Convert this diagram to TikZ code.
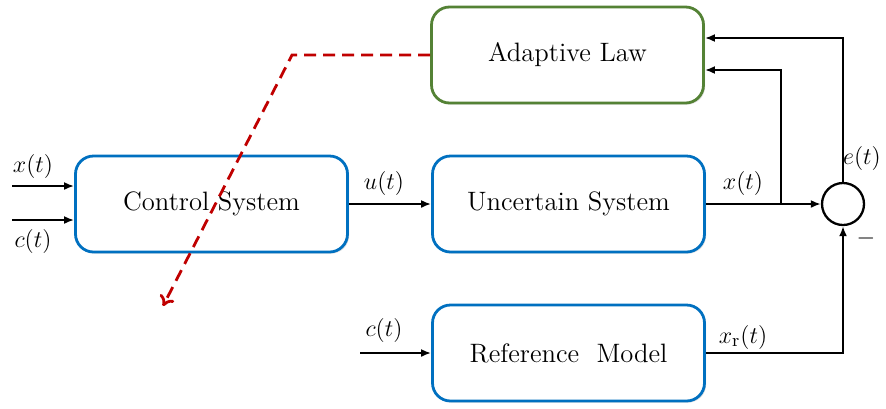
\documentclass[tikz,border=0pt]{standalone}
\usetikzlibrary{arrows.meta,shadows}
\definecolor{blu}{RGB}{0,112,192}
\definecolor{grn}{RGB}{84,130,53}
\definecolor{rd}{RGB}{192,0,0}
\begin{document}
\begin{tikzpicture}[x=0.5pt,y=-0.5pt,
  blk/.style={draw=blu,line width=1.4pt,rounded corners=9pt,minimum width=136pt,minimum height=48pt,fill=white,
    drop shadow={shadow xshift=0.8pt,shadow yshift=-0.8pt,opacity=0.25},font=\fontsize{13.3}{16}\selectfont},
  sig/.style={line width=1.15pt,-{Latex[length=5pt,width=4pt]}},
  lbl/.style={font=\fontsize{12.5}{15}\selectfont,inner sep=0pt}]
\path[use as bounding box] (0,0) rectangle (886,408);
\node[blk,draw=grn] (al) at (567.5,55) {Adaptive Law};
\node[blk] (cs) at (211.5,204) {Control System};
\node[blk] (us) at (568.5,204) {Uncertain System};
\node[blk] (rm) at (568.5,353) {Reference\ \ Model};
\node[draw,circle,line width=1.15pt,minimum size=21pt,inner sep=0pt] (sum) at (843,204) {};
% inputs to control system
\coordinate (xin) at (12,186);
\coordinate (cin) at (12,220);
\draw[sig] (xin) -- (xin -| cs.west);
\draw[sig] (cin) -- (cin -| cs.west);
\node[lbl] (lx) at (33,166) {$x(t)$};
\node[lbl] (lc) at (33,241) {$c(t)$};
% u(t)
\draw[sig] (cs.east) -- (us.west);
\node[lbl] (lu) at (384,183) {$u(t)$};
% x(t) to sum
\draw[sig] (us.east) -- (sum.west);
\node[lbl] (lxo) at (743,183) {$x(t)$};
\coordinate (br) at (781,204);
\coordinate (brt) at (781,70);
\draw[sig] (br) -- (brt) -- (brt -| al.east);
% e(t)
\coordinate (et) at (843,38);
\draw[sig] (sum.north) -- (et) -- (et -| al.east);
\node[lbl] (le) at (862,158) {$e(t)$};
\node[lbl] (lm) at (866,238) {$-$};
% reference model
\coordinate (rin) at (360,353);
\draw[sig] (rin) -- (rm.west);
\node[lbl] (lrc) at (384,330) {$c(t)$};
\coordinate (rc) at (843,353);
\draw[sig] (rm.east) -- (rc) -- (sum.south);
\node[lbl] (lxr) at (743,337) {$x_{\mathrm{r}}(t)$};
% red dashed
\coordinate (k) at (292,55);
\coordinate (tip) at (163,306);
\draw[rd,line width=1.4pt,dash pattern=on 6pt off 3.5pt,-{To[length=5pt,width=8pt]}] (al.west) -- (k) -- (tip);
\end{tikzpicture}
\end{document}
